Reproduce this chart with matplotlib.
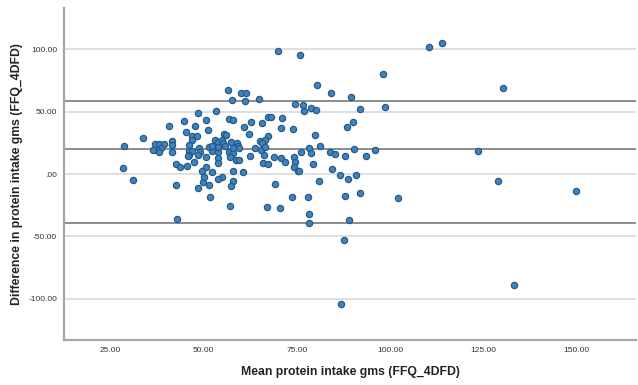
import matplotlib
matplotlib.use("Agg")
import matplotlib.pyplot as plt
from matplotlib.ticker import FuncFormatter

# Bland-Altman: mean vs difference of protein intake (FFQ vs 4DFD)
mean_intake = [
    69.8, 75.7, 110.3, 113.9, 98.0, 130.2, 80.4, 84.2, 89.6, 56.5,
    60.1, 61.3, 57.6, 61.0, 64.8, 74.4, 76.6, 76.8, 78.7, 80.1,
    91.8, 98.6, 53.2, 48.5, 44.8, 50.6, 56.8, 57.9, 67.3, 67.9,
    71.0, 62.6, 65.7, 40.6, 47.6, 51.0, 60.8, 70.7, 73.8, 89.9,
    88.5, 45.3, 62.1, 55.4, 55.9, 46.9, 48.2, 67.3, 66.5, 79.7,
    33.6, 41.6, 46.8, 53.0, 53.9, 54.8, 55.2, 57.2, 59.0, 59.3,
    65.1, 65.7, 63.6, 28.7, 37.0, 38.1, 39.2, 38.5, 37.4, 38.1,
    36.3, 41.6, 41.5, 46.1, 46.1, 48.6, 48.9, 46.8, 46.1, 48.5,
    52.3, 53.7, 51.4, 56.8, 57.7, 57.1, 58.7, 59.5, 57.8, 62.4,
    66.1, 68.8, 70.6, 71.9, 74.2, 74.4, 74.2, 75.2, 76.2, 78.3,
    78.7, 81.2, 83.8, 85.3, 87.8, 90.3, 93.5, 96.0, 123.6, 79.4,
    84.4, 86.5, 88.6, 90.8, 75.5, 80.8, 128.9, 149.9, 73.7, 78.0,
    87.8, 91.8, 102.0, 78.2, 78.2, 89.0, 87.7, 133.1, 86.8, 70.5,
    66.9, 57.0, 51.7, 48.5, 51.3, 49.7, 57.7, 57.4, 55.0, 53.8,
    69.0, 42.6, 31.1, 28.4, 42.7, 42.6, 43.6, 45.4, 47.4, 50.6,
    49.5, 50.1, 52.3, 53.7, 53.7, 57.7, 60.4, 65.9, 67.3, 45.8,
    59.5, 65.3, 66.4, 55.7, 50.6, 52.3, 53.8,
]
diff_intake = [
    98.7, 95.7, 101.7, 104.9, 80.0, 68.6, 71.5, 65.2, 61.9, 67.2,
    65.1, 65.1, 59.2, 58.4, 60.3, 56.3, 55.0, 50.2, 52.6, 51.6,
    52.2, 53.8, 50.2, 49.0, 42.1, 42.9, 44.2, 43.2, 45.4, 45.8,
    44.6, 41.6, 40.5, 38.4, 38.6, 34.9, 37.6, 37.0, 36.0, 41.6,
    37.8, 33.3, 32.2, 32.0, 30.9, 30.6, 30.4, 30.1, 27.2, 31.2,
    28.5, 26.6, 26.9, 27.2, 25.3, 27.2, 24.5, 25.3, 25.0, 22.1,
    26.6, 24.8, 21.0, 22.6, 23.7, 23.7, 23.7, 21.0, 19.2, 17.8,
    19.2, 23.2, 17.9, 23.2, 18.6, 20.8, 17.8, 18.3, 15.1, 15.5,
    18.3, 17.8, 21.8, 17.8, 16.5, 13.3, 11.1, 11.1, 20.5, 14.3,
    15.1, 13.9, 12.5, 9.8, 13.8, 9.5, 5.8, 2.6, 17.8, 20.8,
    17.0, 22.4, 17.8, 15.9, 14.3, 19.7, 14.7, 19.6, 18.1, 7.7,
    3.7, -0.9, -4.1, -0.9, 2.3, -5.9, -5.4, -13.9, -18.5, -18.5,
    -17.5, -15.3, -18.9, -32.4, -39.1, -37.2, -53.0, -89.0, -103.8, -27.6,
    -26.8, -25.7, -18.8, -10.9, -8.9, -6.3, -5.4, -9.5, -2.7, -4.3,
    -8.3, -9.1, -4.6, 4.7, -36.4, 7.9, 5.8, 6.3, 9.3, 5.8,
    2.3, -2.2, 1.8, 12.5, 8.5, 2.3, 1.3, 9.0, 7.7, 14.3,
    20.5, 19.2, 21.8, 22.4, 13.5, 22.7, 21.6,
]

mean_diff = 19.8
upper_loa = 58.6
lower_loa = -39.0

x_ticks = [25, 50, 75, 100, 125, 150]
y_ticks = [-100, -50, 0, 50, 100]


def spss_fmt(v, pos):
    s = f"{v:.2f}"
    if s.startswith("0."):
        s = s[1:]
    elif s.startswith("-0."):
        s = "-" + s[2:]
    return s


plt.rcParams['font.family'] = ['Liberation Sans', 'DejaVu Sans']

fig = plt.figure(figsize=(6.38, 3.85), dpi=100)
ax = fig.add_axes([0.1003, 0.117, 0.897, 0.862])

for yv in y_ticks:
    ax.axhline(yv, color='#dcdcdc', lw=1.3, zorder=1)
for yv in (upper_loa, mean_diff, lower_loa):
    ax.axhline(yv, color='#8c8c8c', lw=1.4, zorder=2)

ax.scatter(mean_intake, diff_intake, s=20, facecolor='#4282bd',
           edgecolor='#235a8a', linewidth=0.9, zorder=3)

ax.set_xlim(12.5, 166)
ax.set_ylim(-133, 133)
ax.set_xticks(x_ticks)
ax.set_yticks(y_ticks)
ax.xaxis.set_major_formatter(FuncFormatter(spss_fmt))
ax.yaxis.set_major_formatter(FuncFormatter(spss_fmt))
ax.tick_params(length=0, labelsize=6, colors='#333333', pad=5)

for side in ('top', 'right'):
    ax.spines[side].set_visible(False)
for side in ('left', 'bottom'):
    ax.spines[side].set_color('#a6a6a6')
    ax.spines[side].set_linewidth(1.6)

ax.set_xlabel('Mean protein intake gms (FFQ_4DFD)', fontsize=8.8,
              fontweight='bold', color='#222222', labelpad=9)
ax.set_ylabel('Difference in protein intake gms (FFQ_4DFD)', fontsize=8.8,
              fontweight='bold', color='#222222', labelpad=3.5)

fig.savefig('out.png', dpi=100)
